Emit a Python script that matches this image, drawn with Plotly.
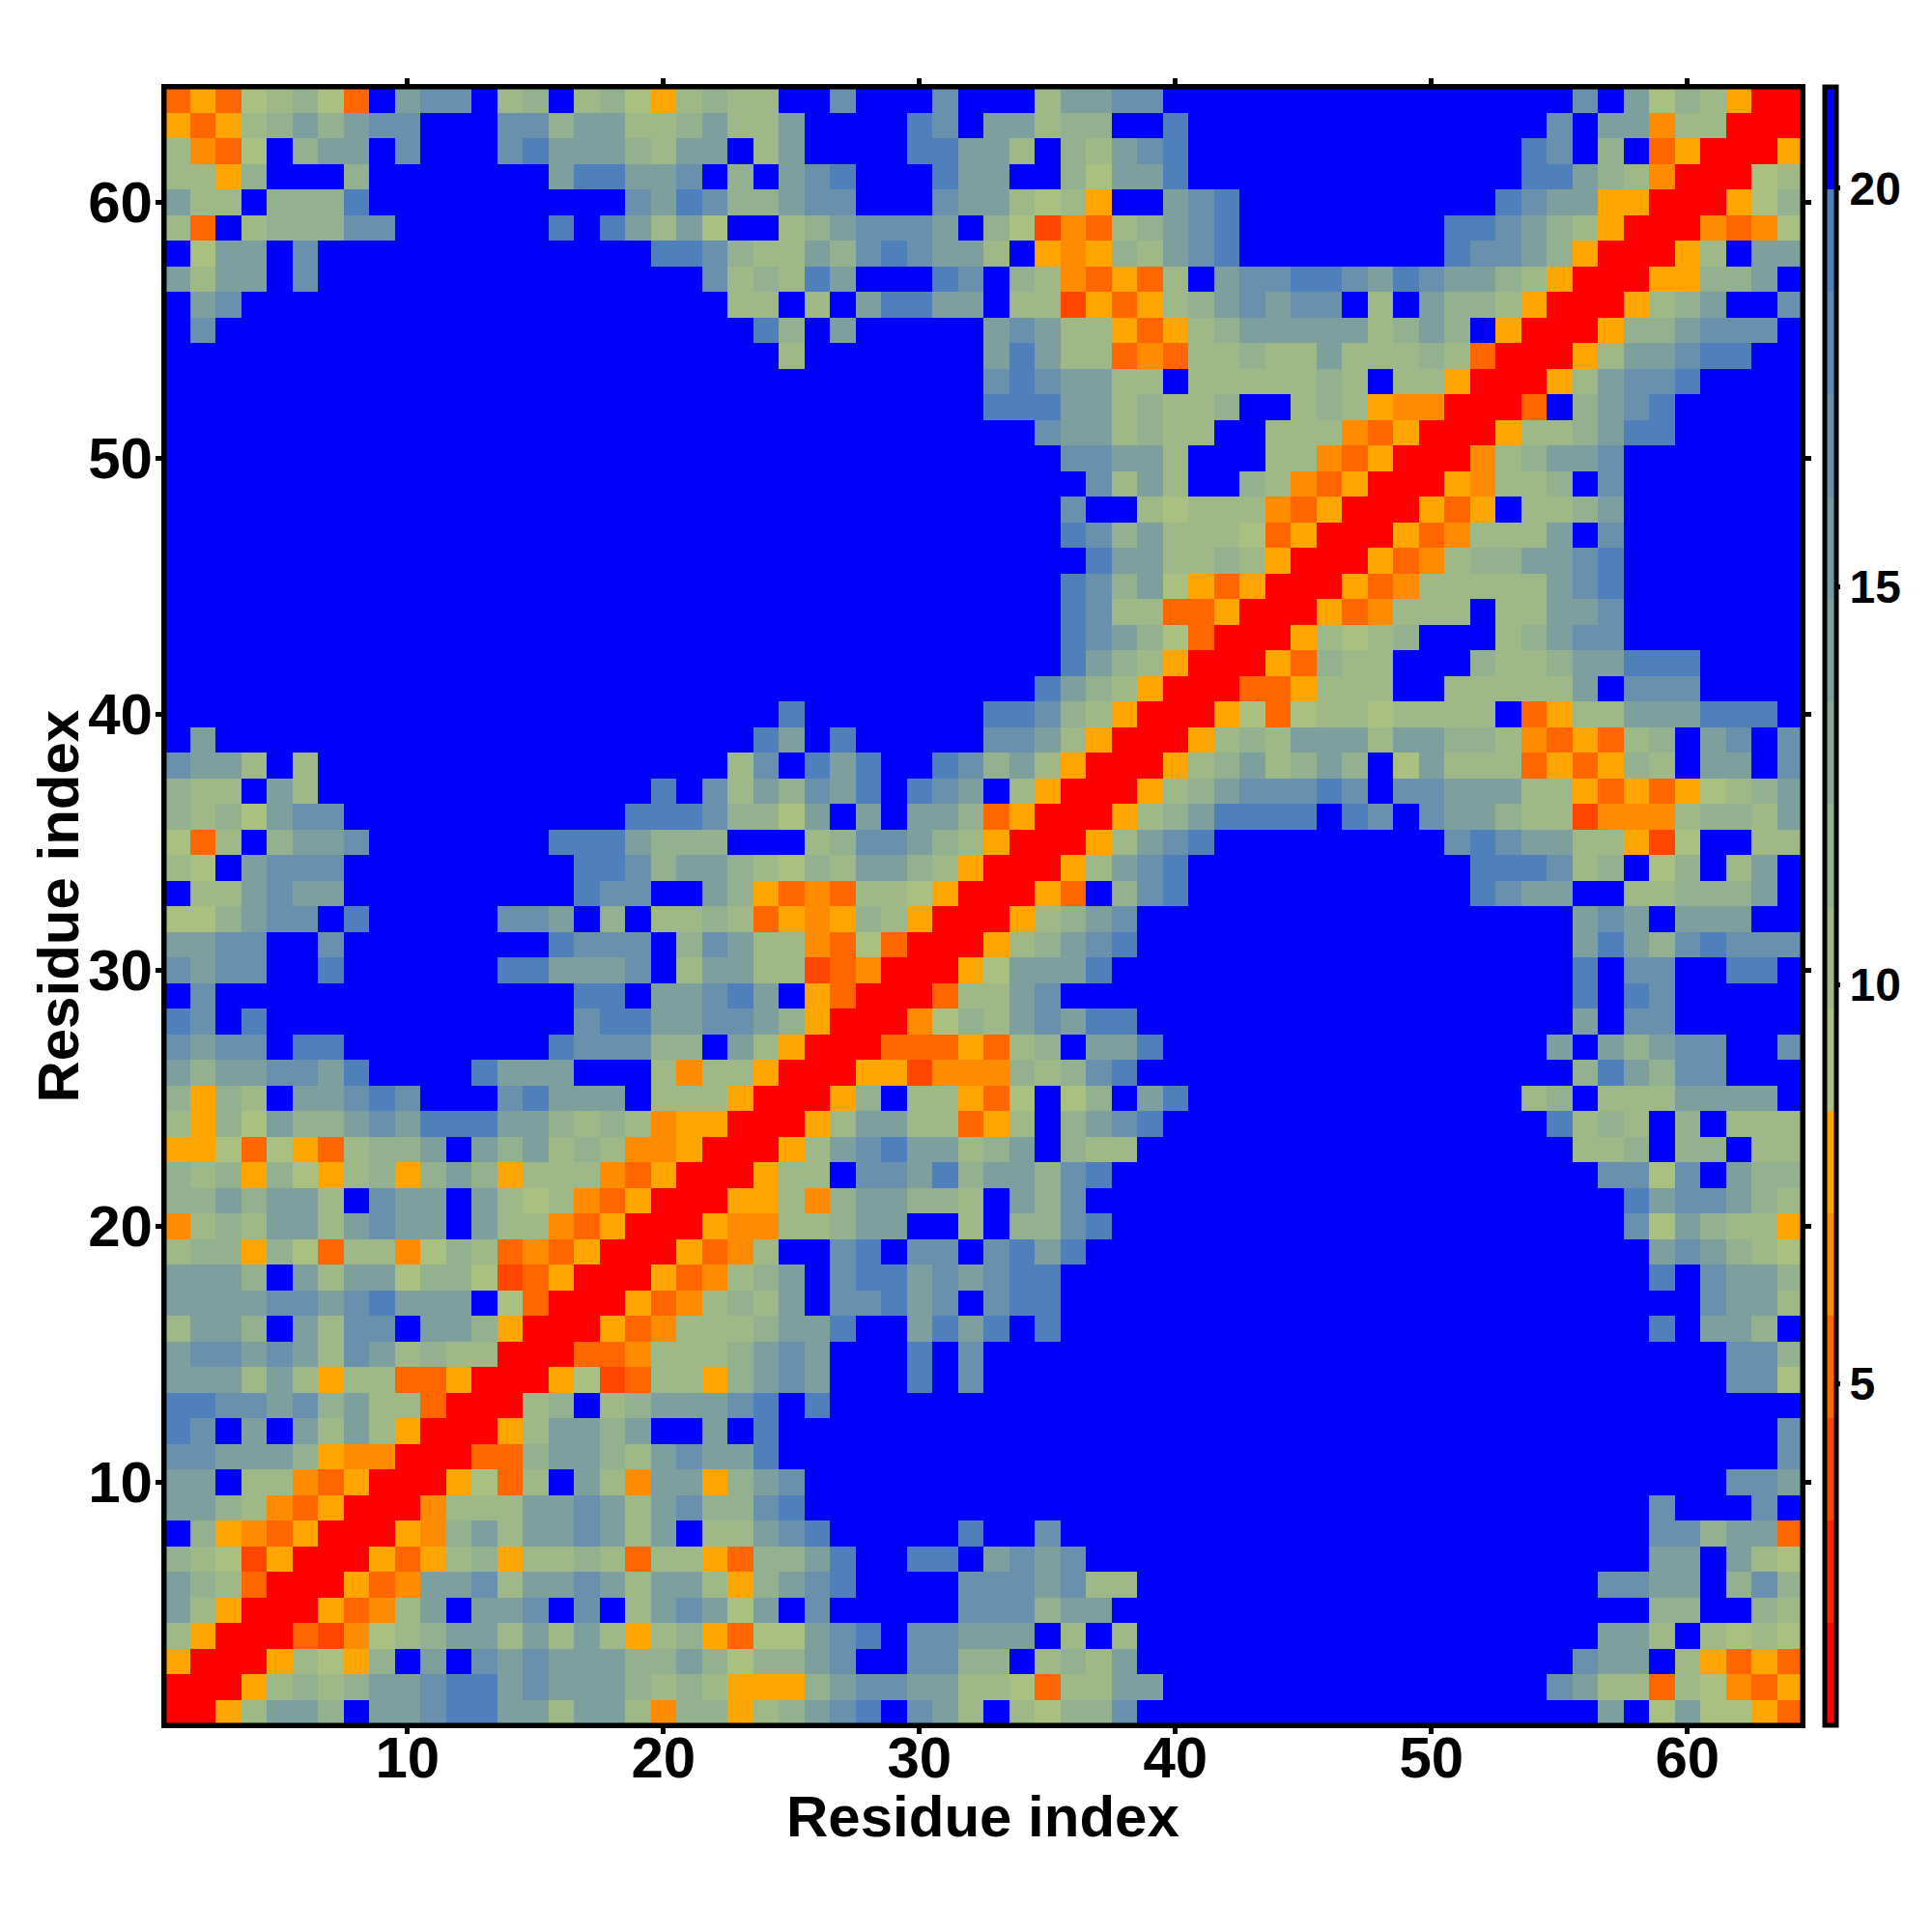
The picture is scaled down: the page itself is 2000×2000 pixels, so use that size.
import plotly.graph_objects as go

RESIDUES = list(range(1, 65))
AXIS_TICKS = [10, 20, 30, 40, 50, 60]
BAR_TICKS = [5, 10, 15, 20]
AXIS_TITLE = "Residue index"
Z_MIN = 0.71
Z_MAX = 21.27
BAND_COLORS = ["#FF0000", "#FF2200", "#FF4500", "#FF6600", "#FF8C00", "#FFA500",
               "#A9C080", "#9EB888", "#93B08F", "#88A897", "#7DA09E", "#7299A6",
               "#6990AD", "#5B88B5", "#5080BC", "#0000FF"]
# distance (Angstrom) read for each colour code of the map
LEVEL = {"R": 1.35, "D": 3.9, "E": 5.2, "O": 6.5, "Y": 7.8, "a": 9.1, "b": 10.3,
         "c": 11.6, "d": 14.2, "e": 16.8, "f": 19.3, "B": 20.6}
B22 = "B" * 22
# rows from residue 64 (top) down to residue 1; three groups: columns 1-22, 23-45, 46-64
ROWS = [
 "EYEabcaEBdeeBbcBbcaYbc bbBBeBBBeBBBbddeeBBBBBB BBBBBBBBBBeBdacbYRR",
 "YEYbcdcdeeBBBeecddbbcd bbdBBBBfeBddbccBBfBBBBB BBBBBBBBBeBddObbRRR",
 "bOEaBcddBeBBBefdddcbdd BbdBBBBffddbBcbdefBBBBB BBBBBBBBfeBcBEYRRRY",
 "bbYcBBBcBBBBBBBdffddeB cBdefBBBfddBBcaddfBBBBB BBBBBBBBffdcbORRRab",
 "dbbBcccfBBBBBBBBBBedfe ccdeeBBBeddbabYBBdefBBB BBBBBBBfeddYYRRRYac",
 "bEBbccceeBBBBBBfBfdbda BBbcdeeedBcaDOEbcdefBBB BBBBBffedcbYRRROEOa",
 "BaddBeBBBBBBBBBBBBBffe cbbdcefeddbBYOYcbdefBBB BBBBBfeedcYRRRYbBdd",
 "dbddBeBBBBBBBBBBBBBBBe bcbfdBBBfeBcbOEYEbBdeef fedfeddcbYRRRYYccdB",
 "BdeBBBBBBBBBBBBBBBBBBB bbBbBdffddBbbDYEYbcdede eBbBdccbYRRRYbcdBBe",
 "BeBBBBBBBBBBBBBBBBBBBB BfcBdBBBBBdedbbYEYbcddd ddbcdcBYRRRYccdeeeB",
 B22 + " BBbBBBBBBBdfdbbEOEbbcbb dbbbcbERRRYbddeffBB",
 B22 + " BBBBBBBBBBefeddbbBbbbbb cbBbbYRRRYbdeefBBBB",
 B22 + " BBBBBBBBBBfffddbcbbcBBb cbYOORRREBcdefBBBBB",
 B22 + " BBBBBBBBBBBBeddbcbbBBbb bOEYRRRYbbcdffBBBBB",
 B22 + " BBBBBBBBBBBBBeeddbBBBbb OEYRRRObcddeBBBBBBB",
 B22 + " BBBBBBBBBBBBBBebdbBBcbO EYRRRYObbcBeBBBBBBB",
 B22 + " BBBBBBBBBBBBBeBBbabbbOE YRRRYEYBbbcdBBBBBBB",
 B22 + " BBBBBBBBBBBBBfecdbbbaEY RRRYEObbbdBeBBBBBBB",
 B22 + " BBBBBBBBBBBBBBfddbbcbYR RRYEObccddefBBBBBBB",
 B22 + " BBBBBBBBBBBBBfecdaYEYRR RYEObbbbbdefBBBBBBB",
 B22 + " BBBBBBBBBBBBBfebbEEYRRR YEObbbBbbddeBBBBBBB",
 B22 + " BBBBBBBBBBBBBfedcaERRRY babcBBBbcdeeBBBBBBB",
 B22 + " BBBBBBBBBBBBBfdcbYRRRYE cbbBBBcbbcddfffBBBB",
 B22 + " BBBBBBBBBBBBfdcbYRRREEY bbbBBbbbbbdBeeeBBBB",
 B22 + " BBfBBBBBBBffecbYRRRYaEa bbabbbbBEYbbdddfffB",
 "BdBBBBBBBBBBBBBBBBBBBB BfdBfBBBBBeedbYRRRYbcbd ddbddccbOEYEbcBdeBe",
 "eddbBbBBBBBBBBBBBBBBBB beBfdfBBfecdbYRRRYbcdbc dcBadbbbEYEYcbBddBe",
 "cbbBdbBBBBBBBBBBBBBfBe bdcedfBfedBbYRRRYbcdeee feBeedddbbYEYEYabcd",
 "cbcadeeBBBBBBBBBBBfffe ccadBdBddcEYRRRYbcdffff BfeBeddcbbDOOObccbd",
 "aEbBcddeBBBBBBBfffdccc BBBbceedcbYRRRYbdefBBBB BBBBBefeddbbYDaBBbb",
 "baBdeeeBBBBBBBBBffecdd cbacbddcbYRRRYbdefBBBBB BBBBBBfffebcBacBbdB",
 "BbbdeddBBBBBBBBBfeeBBd cYEOEbbaYRRRYEBcefBBBBB BBBBBBfeddBBbbcccdB",
 "aacdeeBfBBBBBeedBcBbbc bEYOYcbYRRRYbcdeBBBBBBB BBBBBBBBBBdedBdddBB",
 "ddeeBBeBBBBBBBBfeeeBce dbbOEaERRRYbcdefBBBBBBB BBBBBBBBBBdfdcefeee",
 "edeeBBfBBBBBBffdddeBbd dbbDEORRRYadddfBBBBBBBB BBBBBBBBBBfBeeBBffB",
 "BeBBBBBBBBBBBBBBffBdde fdBYERRREbbdeBBBBBBBBBB BBBBBBBBBBfBfeBBBBB",
 "feBfBBBBBBBBBBBBeffdde edcYRRROacbdedffBBBBBBB BBBBBBBBBBdBeeBBBBB",
 "edeeBffBBBBBBBBfeeeccB dbYRRREEEYEbcBddfBBBBBB BBBBBBBBBdBdcdeeBBe",
 "dcddeedfBBBBfdddBBBbOb bYRRRYYDOOOcbcefBBBBBBB BBBBBBBBBBcfdceeBBB",
 "cYcbBddefeBBBefdddBbbb YRRRYcBbbYEaBacBdfBBBBB BBBBBBBBbcBbbbddddB",
 "bYcadccdedfffddcbcbOYY RRRYbddbbEYbBcdefBBBBBB BBBBBBBBBfbcbBcBbbb",
 "YYaEaYEbccdBdcdbcbOOYR RRYbdefddbcdBcbbBBBBBBB BBBBBBBBBBbbcBccBbb",
 "cbcYcaYbcYcdcYbbbOEYRR RYbbBeedfcddcefBBBBBBBB BBBBBBBBBBBeeaeBdcc",
 "ccdcddbBeddBdbabOEYRRR YYbOcddccbBdceBBBBBBBBB BBBBBBBBBBBBfdeedcb",
 "ObcbddbdeddBdbbOEYRRRY OObbcddBBbBccefBBBBBBBB BBBBBBBBBBBBeadcbbY",
 "bccYcaEbbOacbEOEYRRRYE ObBBefBeeBefdfBBBBBBBBB BBBBBBBBBBBBBdedcba",
 "dddcBdbddaccaDEYRRRYEO bcdBeffdedeffBBBBBBBBBB BBBBBBBBBBBBBfBeddc",
 "ddddeedefdddBaERRRYEOb cbdBeefdeBeffBBBBBBBBBB BBBBBBBBBBBBBBBeddb",
 "bddcBdbeeBddcYRRRYEObb bcddfBBdfdfBfBBBBBBBBBB BBBBBBBBBBBBBfBddcB",
 "deededbedbcbbRRREEObbb cdedBBBfBeBBBBBBBBBBBBB BBBBBBBBBBBBBBBBeec",
 "dddbdbYbbEEYRRRYaDEbbY cdedBBBfBeBBBBBBBBBBBBB BBBBBBBBBBBBBBBBeea",
 "ffeedecdbbERRRbcBbcddd efBfBBBBBBBBBBBBBBBBBBB BBBBBBBBBBBBBBBBBBB",
 "feBdBdbdbYRRRYbddcdBBd BfBBBBBBBBBBBBBBBBBBBBB BBBBBBBBBBBBBBBBBBe",
 "eedddcYOORRREEcddcbded dfBBBBBBBBBBBBBBBBBBBBB BBBBBBBBBBBBBBBBBBe",
 "ddBbbOEYRRRYaEbBdbOddY cdeBBBBBBBBBBBBBBBBBBBB BBBBBBBBBBBBBBBBeed",
 "ddcbOEYRRRObbbddedbdec cefBBBBBBBBBBBBBBBBBBBB BBBBBBBBBBBBBeBBBeB",
 "BcYOEYRRRYOcdbddedbdBb bdefBBBBBfBBeBBBBBBBBBB BBBBBBBBBBBBBeecddE",
 "cbaDYRRRYEYbcYbbcbEbbY EccdfBBffBdedeBBBBBBBBB BBBBBBBBBBBBBddBdba",
 "dcbERRRYEOddebddedbddb YcdefBBBBeeedebbBBBBBBB BBBBBBBBBBBeeddBcec",
 "dbYRRRYEObdBddeBeBbded adBeBBBBBeeecddBBBBBBBB BBBBBBBBBBBBBccBBcb",
 "bYRRREDOabcddbdbdbYbcY EaadefBeedddBbBbBBBBBBB BBBBBBBBBBBddbBbaba",
 "YRRRYbaYcBdBededddccdc accdeBBeeccBbcbdBBBBBBB BBBBBBBBBBeddBbYEYE",
 "RRRYbcbcddeffdedddcbcb YYYcdeeddbbaEbbddBBBBBB BBBBBBBBBedbbEbaOEY",
 "RRYbddcBddeffddbddbOcc YbcdefBedbBbacceBBBBBBB BBBBBBBBBBBdBadaaYE",
]

rows = [r.replace(" ", "") for r in ROWS]
bad = [(64 - i, len(r)) for i, r in enumerate(rows) if len(r) != 64]
assert len(rows) == 64 and not bad, (len(rows), bad)
z = [[LEVEL[ch] for ch in r] for r in reversed(rows)]

n = len(BAND_COLORS)
colorscale = []
for i, col in enumerate(BAND_COLORS):
    colorscale.append([i / n, col])
    colorscale.append([(i + 1) / n, col])

BOLD = dict(family="Liberation Sans", color="black", weight=700)

fig = go.Figure(go.Heatmap(
    x=RESIDUES, y=RESIDUES, z=z, zmin=Z_MIN, zmax=Z_MAX,
    colorscale=colorscale, xgap=0, ygap=0,
    colorbar=dict(
        x=1.0138, xanchor="left", xpad=0, y=0.5, yanchor="middle", ypad=0,
        len=1, lenmode="fraction", thickness=12, thicknessmode="pixels",
        outlinewidth=5, outlinecolor="black",
        tickmode="array", tickvals=BAR_TICKS, ticktext=[str(t) for t in BAR_TICKS],
        ticks="outside", ticklen=2, tickwidth=5, tickcolor="black",
        tickfont=dict(size=48, **BOLD),
    ),
))

axis = dict(
    range=[0.5, 64.5], tickmode="array", tickvals=AXIS_TICKS,
    ticktext=[str(t) for t in AXIS_TICKS], ticks="outside", ticklen=6, tickwidth=5,
    tickcolor="black", showline=True, linewidth=3, linecolor="black", mirror="ticks",
    showgrid=False, zeroline=False, tickfont=dict(size=60, **BOLD),
)
fig.update_layout(
    width=2000, height=2000, autosize=False,
    margin=dict(l=162, r=142, t=82, b=222, pad=0),
    paper_bgcolor="white", plot_bgcolor="white",
    xaxis=dict(axis, ticklabelstandoff=-27),
    yaxis=dict(axis, ticklabelstandoff=-9),
    shapes=[dict(type="rect", xref="paper", yref="paper", x0=0, x1=1, y0=0, y1=1,
                 line=dict(color="black", width=5), layer="above")],
    annotations=[
        dict(text=AXIS_TITLE, xref="paper", yref="paper", x=0.4995, y=-0.0555,
             xanchor="center", yanchor="middle", showarrow=False, font=dict(size=60, **BOLD)),
        dict(text=AXIS_TITLE, xref="paper", yref="paper", x=-0.0651, y=0.5,
             xanchor="center", yanchor="middle", textangle=-90, showarrow=False,
             font=dict(size=60, **BOLD)),
    ],
)
fig.write_html("out.html")
